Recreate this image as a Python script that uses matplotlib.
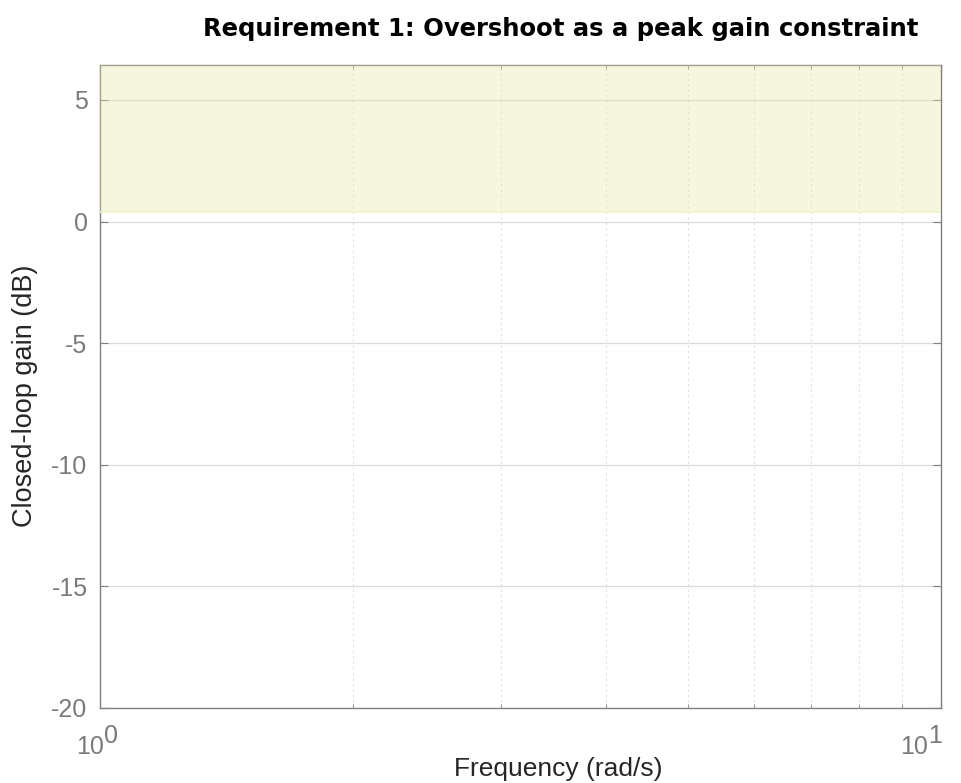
import matplotlib
matplotlib.use('Agg')
import matplotlib.pyplot as plt
from matplotlib.ticker import FixedLocator, NullFormatter
import numpy as np

plt.rcParams['font.family'] = ['Liberation Sans', 'DejaVu Sans']

# Data
freq = [1, 10]                  # rad/s
bound_low = [0.38, 0.38]        # dB, peak gain limit
bound_high = [6.43, 6.43]       # dB
y_ticks = [-20, -15, -10, -5, 0, 5]
x_ticks = [1, 10]
x_exps = ['0', '1']

fig = plt.figure(figsize=(9.62, 7.83), dpi=100)
ax = fig.add_axes([0.104, 0.0958, 0.874, 0.821])

# constraint region, semi transparent so grid and box show through
ax.fill_between(freq, bound_low, bound_high, facecolor='#e8e8a1', alpha=0.35,
                edgecolor='none', zorder=5, clip_on=False)
ax.plot(freq, bound_low, color='#f0f0c8', lw=1.2, zorder=5)

ax.set_xscale('log')
ax.set_xlim(freq[0], freq[-1])
ax.set_ylim(y_ticks[0], bound_high[0])
ax.set_yticks(y_ticks)
ax.set_yticklabels([str(v) for v in y_ticks])
ax.set_xticks(x_ticks)
ax.set_xticklabels(['', ''])
ax.xaxis.set_minor_locator(FixedLocator(list(range(2, 10))))
ax.xaxis.set_minor_formatter(NullFormatter())

# x tick labels 10^n with full size exponent (MATLAB look)
lab_col = '#7a7a7a'
shifts = [2.5, -9]
for t, e, s in zip(x_ticks, x_exps, shifts):
    ax.annotate('10', xy=(t, 0), xycoords=('data', 'axes fraction'), xytext=(s, -33),
                textcoords='offset points', ha='right', va='baseline', fontsize=18, color=lab_col)
    ax.annotate(e, xy=(t, 0), xycoords=('data', 'axes fraction'), xytext=(s, -25),
                textcoords='offset points', ha='left', va='baseline', fontsize=18, color=lab_col)

ax.grid(True, which='major', axis='y', color='#d9d9d9', lw=0.9, zorder=0)
ax.grid(True, which='minor', axis='x', color='#e0e0e0', lw=0.8, ls=(0, (2, 3)), zorder=0)
ax.set_axisbelow(True)

for s in ax.spines.values():
    s.set_color('#808080')
    s.set_linewidth(1.0)

ax.tick_params(which='both', direction='in', top=True, right=True, colors='#808080',
               labelcolor=lab_col, labelsize=18)
ax.tick_params(which='major', length=6)
ax.tick_params(which='minor', length=3)
ax.tick_params(axis='y', pad=9)

ax.set_xlabel('Frequency (rad/s)', fontsize=19, color='#262626')
ax.xaxis.set_label_coords(0.545, -0.076)
ax.set_ylabel('Closed-loop gain (dB)', fontsize=19.5, color='#262626')
ax.yaxis.set_label_coords(-0.074, 0.485)
ax.set_title('Requirement 1: Overshoot as a peak gain constraint', fontsize=17.5,
             fontweight='bold', color='#000000', family='DejaVu Sans', pad=0, x=0.548, y=1.045)

fig.savefig('out.png', dpi=100)
